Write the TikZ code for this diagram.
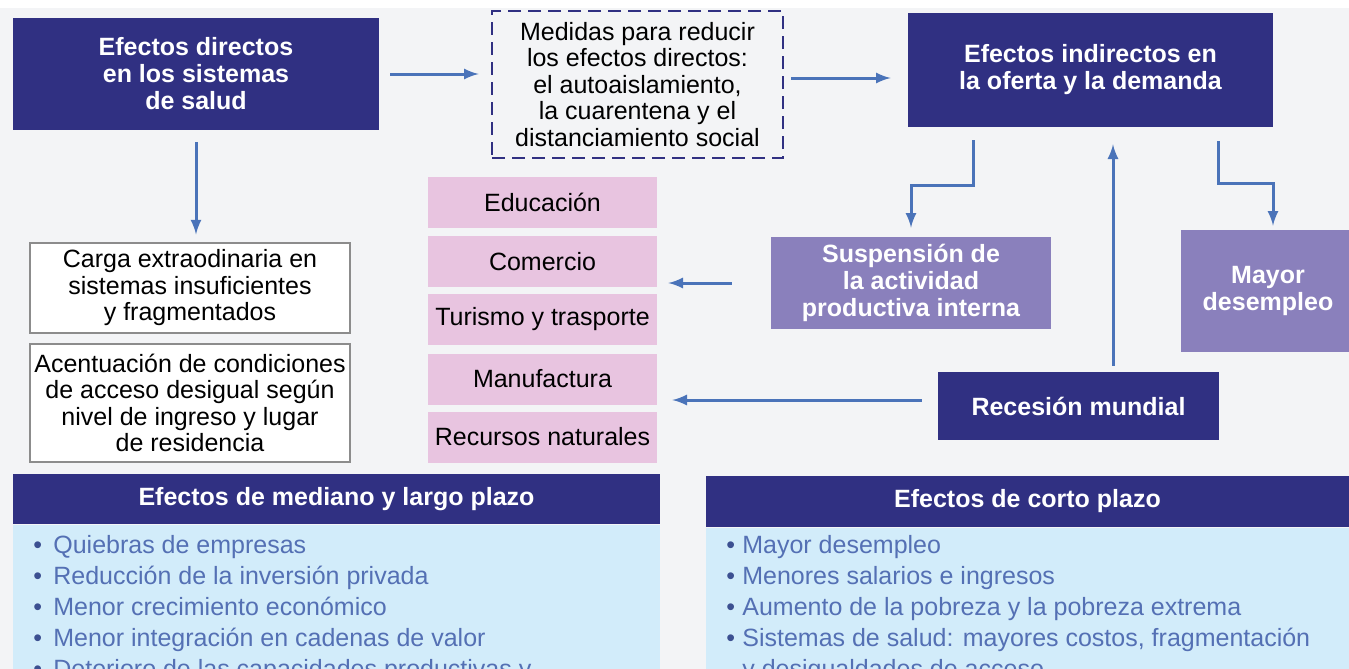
\documentclass[tikz,border=0pt]{standalone}
\usepackage{fontspec}
\setmainfont{Liberation Sans}
\usepackage{tikz}
\usepackage{xcolor}
\usetikzlibrary{arrows, positioning, calc}

\definecolor{navy}{RGB}{48,48,130}
\definecolor{lila}{RGB}{138,128,188}
\definecolor{rosa}{RGB}{232,196,224}
\definecolor{celeste}{RGB}{210,236,250}
\definecolor{flecha}{RGB}{74,115,185}
\definecolor{textoazul}{RGB}{84,112,180}
\definecolor{punto}{RGB}{60,80,145}
\definecolor{fondo}{RGB}{243,244,246}
\definecolor{borde}{RGB}{140,140,140}

\begin{document}
\begin{tikzpicture}[x=0.5pt, y=-0.5pt,
    oscuro/.style={rectangle, fill=navy, text=white, align=center, inner sep=0pt,
        font=\fontsize{12.5}{13.5}\selectfont\bfseries},
    claro/.style={rectangle, fill=lila, text=white, align=center, inner sep=0pt,
        font=\fontsize{12.5}{13.5}\selectfont\bfseries},
    blanco/.style={rectangle, fill=white, draw=borde, line width=0.6pt, align=center,
        inner sep=0pt, minimum width=160pt, font=\fontsize{12.5}{13.25}\selectfont},
    sector/.style={rectangle, fill=rosa, inner sep=0pt, minimum width=114.5pt,
        minimum height=25.5pt, font=\fontsize{12.5}{13.25}\selectfont},
    cuerpo/.style={rectangle, fill=celeste, inner sep=0pt},
    item/.style={anchor=base west, inner sep=0pt, text=textoazul,
        font=\fontsize{12.5}{15.5}\selectfont},
    arr/.style={-latex, flecha, line width=1.5pt}]

    % Frame
    \useasboundingbox (0,0) rectangle (1349,669);
    \clip (0,0) rectangle (1349,669);
    \fill[fondo] (0,8) rectangle (1349,669);

    % Top row
    \node[oscuro, minimum width=183pt, minimum height=56pt] (sys) at (196,74)
        {Efectos directos\\en los sistemas\\de salud};
    \node[rectangle, draw=navy, line width=1.4pt, dash pattern=on 6.5pt off 3.5pt,
        align=center, inner sep=0pt, minimum width=145.5pt, minimum height=73.5pt,
        font=\fontsize{12.5}{13.25}\selectfont] (med) at (637.5,84.5)
        {Medidas para reducir\\los efectos directos:\\el autoaislamiento,\\la cuarentena y el\\distanciamiento social};
    \node[oscuro, minimum width=182.5pt, minimum height=57pt] (ind) at (1090.5,70)
        {Efectos indirectos en\\la oferta y la demanda};

    % Health system effects
    \node[blanco, minimum height=45pt] (carga) at (190,288)
        {Carga extraodinaria en\\sistemas insuficientes\\y fragmentados};
    \node[blanco, minimum height=59pt] (acceso) at (190,403)
        {Acentuación de condiciones\\de acceso desigual según\\nivel de ingreso y lugar\\de residencia};

    % Sectors
    \node[sector] (edu) at (542.5,202.5) {Educación};
    \node[sector] (com) at (542.5,261.5) {Comercio};
    \node[sector] (tur) at (542.5,319.5) {Turismo y trasporte};
    \node[sector] (man) at (542.5,379) {Manufactura};
    \node[sector] (rec) at (542.5,437) {Recursos naturales};

    % Indirect effects
    \node[claro, minimum width=140pt, minimum height=46pt] (susp) at (911,283)
        {Suspensión de\\la actividad\\productiva interna};
    \node[claro, minimum width=87pt, minimum height=61pt] (desem) at (1268,291)
        {Mayor\\desempleo};
    \node[oscuro, minimum width=140.5pt, minimum height=34pt] (recm) at (1078.5,406)
        {Recesión mundial};

    % Arrows
    \draw[arr, shorten <=5.5pt, shorten >=6pt] (sys.east) -- (sys.east -| med.west);
    \draw[arr, shorten <=3.5pt, shorten >=8.5pt] ([yshift=3.25pt]med.east) -- ([yshift=3.25pt]med.east -| ind.west);
    \draw[arr, shorten <=6pt, shorten >=4pt] (sys.south) -- (sys.south |- carga.north);
    \draw[arr, shorten <=6.5pt, shorten >=4.5pt] ([xshift=-58.75pt]ind.south) -- ++(0,58) -| (susp.north);
    \draw[arr, shorten <=7pt, shorten >=2pt] ([xshift=63.75pt]ind.south) -- ++(0,56) -| ([xshift=2.5pt]desem.north);
    \draw[arr, shorten <=3pt, shorten >=8.5pt] ([xshift=17.25pt]recm.north) -- ([xshift=17.25pt]recm.north |- ind.south);
    \draw[arr, shorten <=19.5pt, shorten >=5.5pt] (susp.west) -- (susp.west -| com.east);
    \draw[arr, shorten <=8pt, shorten >=7.5pt] ([yshift=3pt]recm.west) -- ([yshift=3pt]recm.west -| man.east);

    % Medium and long term
    \node[oscuro, minimum width=323.5pt, minimum height=25pt] (mlp) at (336.5,499)
        {Efectos de mediano y largo plazo};
    \node[cuerpo, minimum width=323.5pt, minimum height=89pt, below=0pt of mlp] (mlpbody) {};
    \node[item] (mlpa) at (33,553) {{\color{punto}\textbullet}\hspace{5.6pt}Quiebras de empresas};
    \node[item] (mlpb) at (33,584) {{\color{punto}\textbullet}\hspace{5.6pt}Reducción de la inversión privada};
    \node[item] (mlpc) at (33,615) {{\color{punto}\textbullet}\hspace{5.6pt}Menor crecimiento económico};
    \node[item] (mlpd) at (33,646) {{\color{punto}\textbullet}\hspace{5.6pt}Menor integración en cadenas de valor};
    \node[item] (mlpe) at (33,677) {{\color{punto}\textbullet}\hspace{5.6pt}Deterioro de las capacidades productivas y};

    % Short term
    \node[oscuro, minimum width=321.5pt, minimum height=25.5pt] (cp) at (1027.5,501.5)
        {Efectos de corto plazo};
    \node[cuerpo, minimum width=321.5pt, minimum height=88pt, below=0pt of cp] (cpbody) {};
    \node[item] (cpa) at (726,553) {{\color{punto}\textbullet}\hspace{3.6pt}Mayor desempleo};
    \node[item] (cpb) at (726,584) {{\color{punto}\textbullet}\hspace{3.6pt}Menores salarios e ingresos};
    \node[item] (cpc) at (726,615) {{\color{punto}\textbullet}\hspace{3.6pt}Aumento de la pobreza y la pobreza extrema};
    \node[item] (cpd) at (726,646) {{\color{punto}\textbullet}\hspace{3.6pt}Sistemas de salud: mayores costos, fragmentación};
    \node[item] (cpe) at (742,677) {y desigualdades de acceso};
\end{tikzpicture}
\end{document}
